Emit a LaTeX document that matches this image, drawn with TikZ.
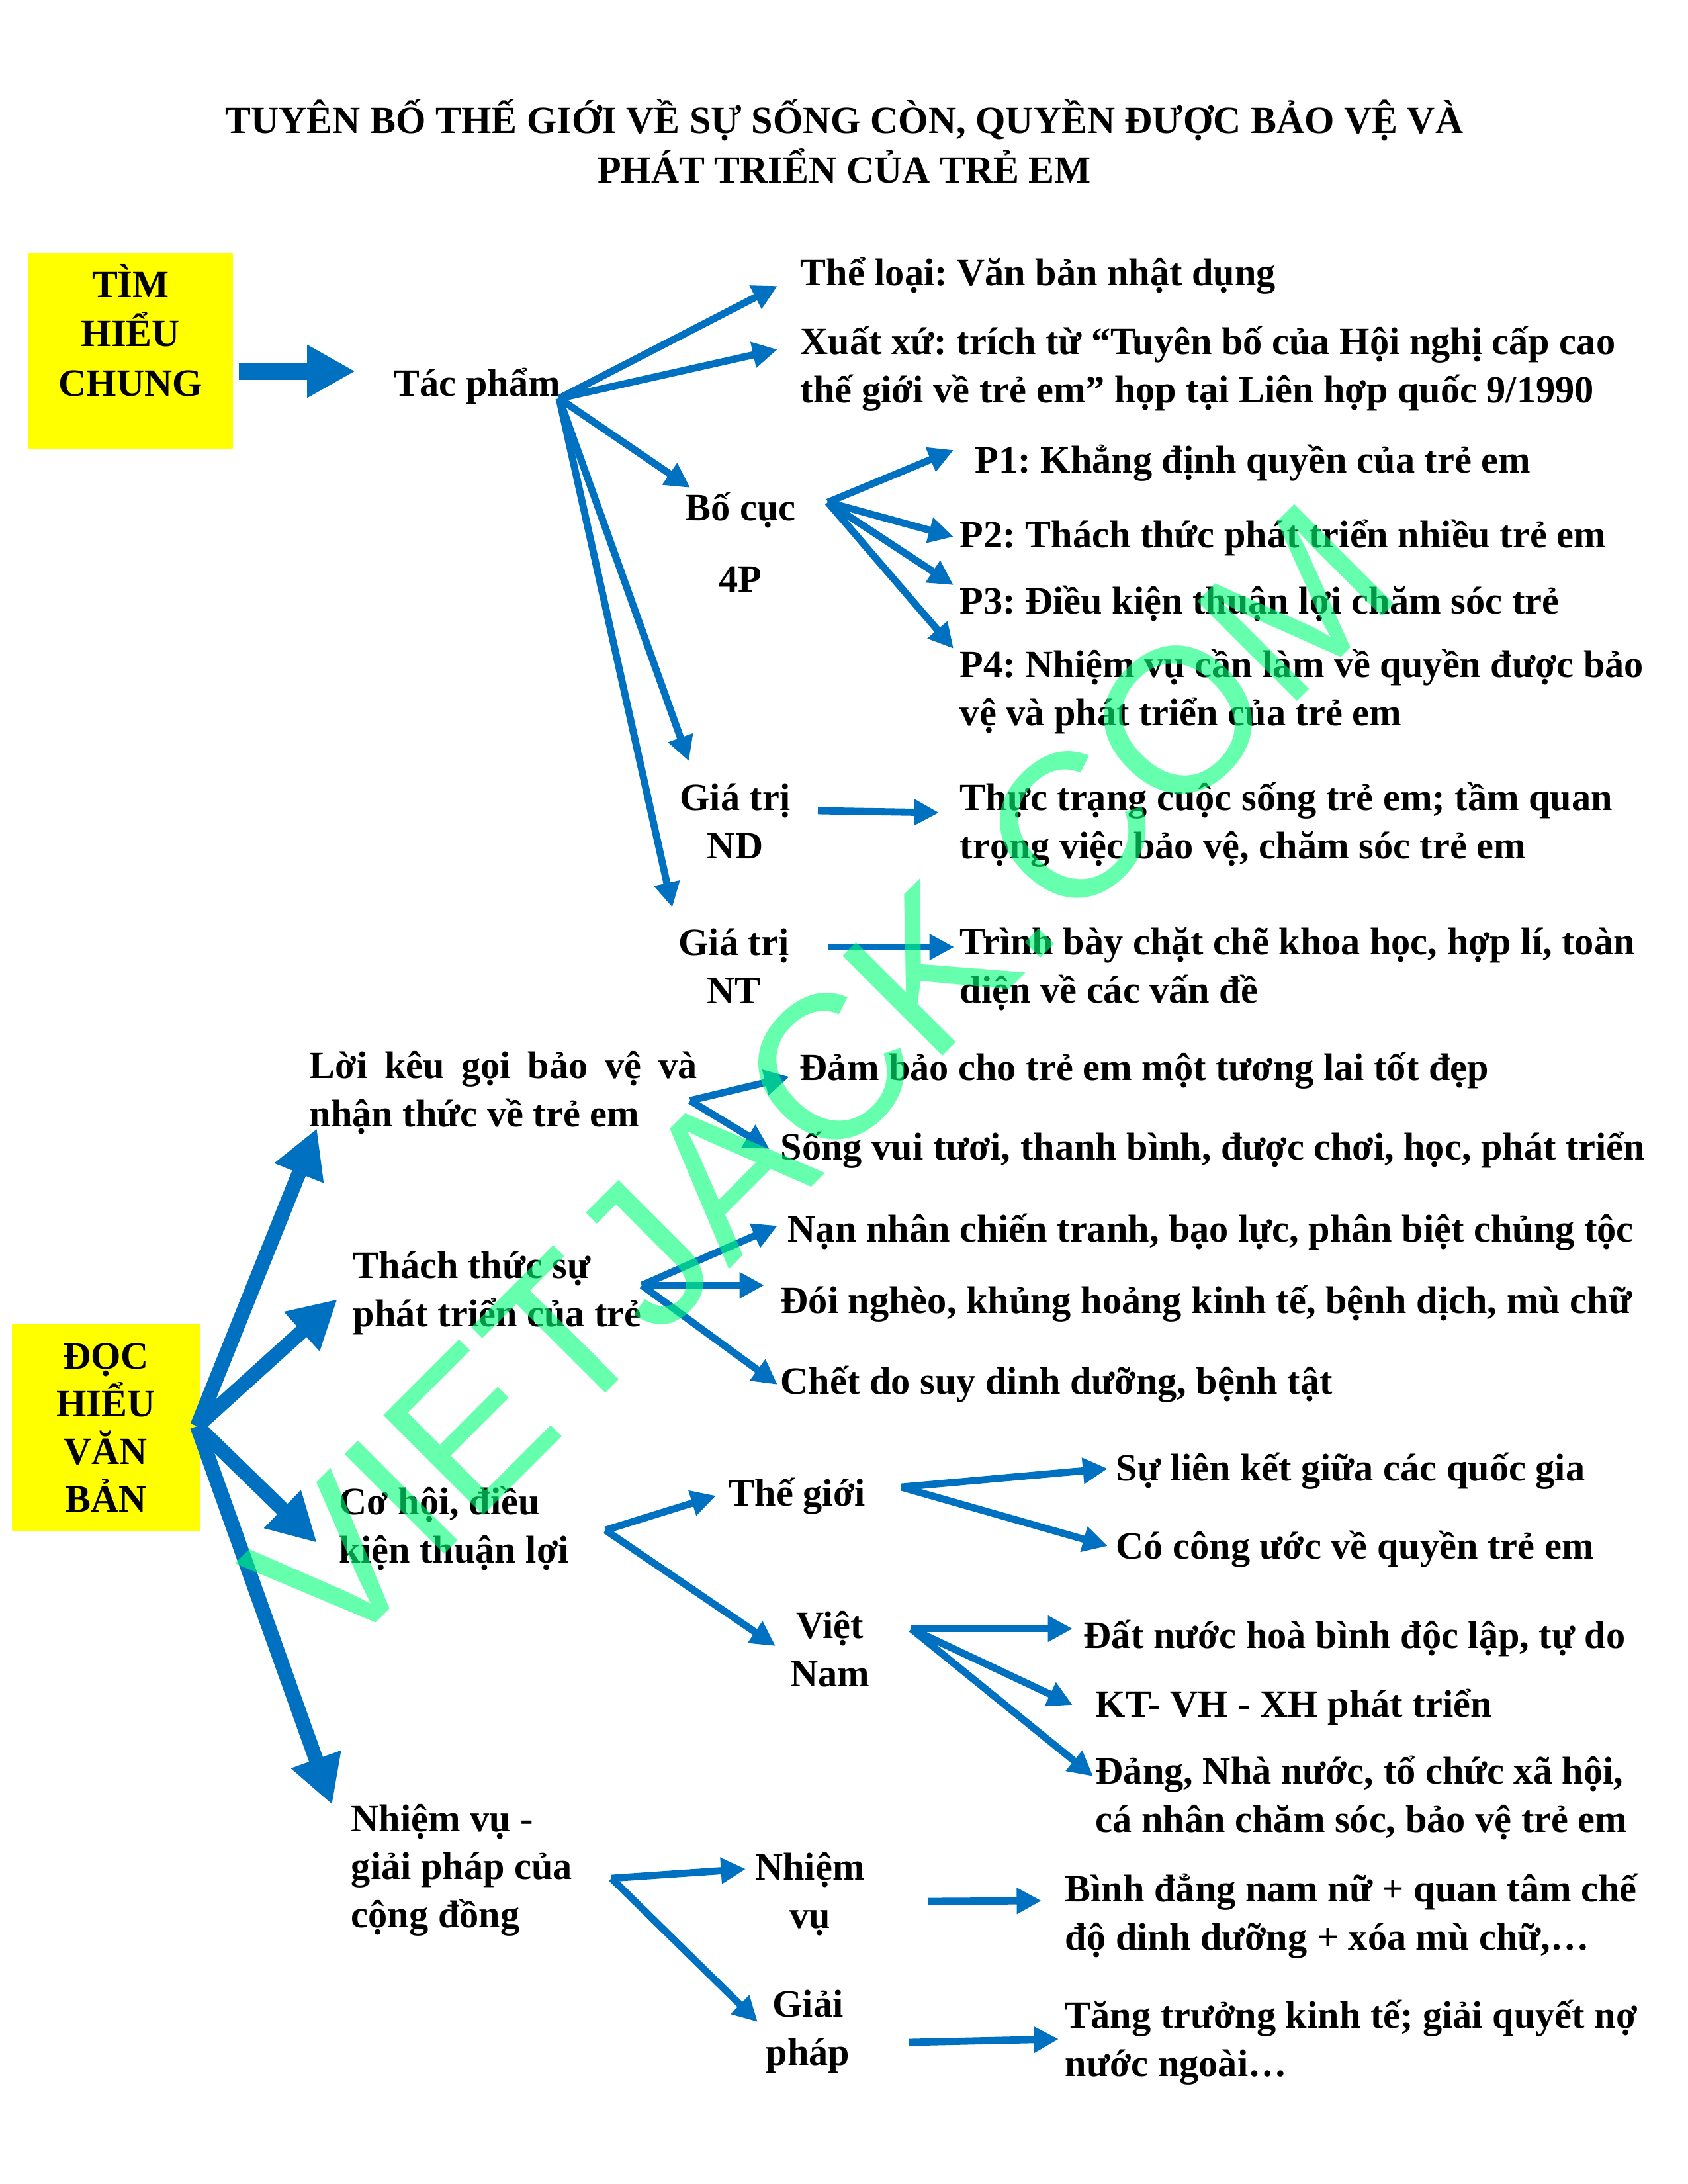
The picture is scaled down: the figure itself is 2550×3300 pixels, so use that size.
\documentclass[tikz,border=0pt]{standalone}
\usepackage{fontspec}
\setmainfont{Liberation Serif}
\newfontfamily\wmfont{Liberation Sans}
\usetikzlibrary{arrows.meta,positioning}
\definecolor{arrblue}{HTML}{0070C0}
\definecolor{hlyellow}{HTML}{FFFF00}
\definecolor{wmgreen}{HTML}{00FF77}
\frenchspacing

\begin{document}
\begin{tikzpicture}[x=0.24pt, y=-0.24pt,
  txt/.style={anchor=base west, align=left, inner sep=0pt,
              font=\fontsize{14}{17.3}\selectfont\bfseries},
  ctxt/.style={txt, anchor=base, align=center},
  ybox/.style={fill=hlyellow, inner sep=0pt},
  arr/.style={draw=arrblue, line width=2.6pt, -{Triangle[length=9pt,width=9pt]}},
  arrbig/.style={draw=arrblue, line width=5.3pt, -{Triangle[length=17.5pt,width=18pt]}},
  arrblock/.style={draw=arrblue, line width=6pt, -{Triangle[length=17.5pt,width=18pt]}},
]
  \useasboundingbox (0,0) rectangle (2550,3300);

  % ── Title ───────────────────────
  \node[ctxt, font=\fontsize{14}{17.8}\selectfont\bfseries] (title) at (1276,276)
        {TUYÊN BỐ THẾ GIỚI VỀ SỰ SỐNG CÒN, QUYỀN ĐƯỢC BẢO VỆ VÀ\\PHÁT TRIỂN CỦA TRẺ EM};

  % ── Tìm hiểu chung ──────────────
  \node[ybox, minimum width=74.2pt, minimum height=71pt, anchor=north west] (tim) at (42,381) {};
  \node[ctxt, font=\fontsize{14}{17.8}\selectfont\bfseries] (timtxt)
        at ([yshift=-52.1pt]tim.north) {TÌM\\HIỂU\\CHUNG};
  \node[txt] (tacpham) at (595,598) {Tác phẩm};
  \node[txt] (theloai) at (1209,431) {Thể loại: Văn bản nhật dụng};
  \node[txt] (xuatxu) at (1209,608)
        {Xuất xứ: trích từ “Tuyên bố của Hội nghị cấp cao\\thế giới về trẻ em” họp tại Liên hợp quốc 9/1990};
  \node[ctxt] (bocuc) at (1119,894) {Bố cục\\[8.4pt]4P};
  \node[txt] (p1) at (1473,714) {P1: Khẳng định quyền của trẻ em};
  \node[txt] (p2) at (1450,827) {P2: Thách thức phát triển nhiều trẻ em};
  \node[txt] (p3) at (1450,927) {P3: Điều kiện thuận lợi chăm sóc trẻ};
  \node[txt] (p4) at (1450,1096) {P4: Nhiệm vụ cần làm về quyền được bảo\\vệ và phát triển của trẻ em};
  \node[ctxt] (nd) at (1111,1297) {Giá trị\\ND};
  \node[txt] (ndtxt) at (1450,1297) {Thực trạng cuộc sống trẻ em; tầm quan\\trọng việc bảo vệ, chăm sóc trẻ em};
  \node[ctxt] (nt) at (1109,1516) {Giá trị\\NT};
  \node[txt] (nttxt) at (1450,1515) {Trình bày chặt chẽ khoa học, hợp lí, toàn\\diện về các vấn đề};

  \coordinate (tim-o) at (361,561);
  \coordinate (tp-a) at (537,561);
  \coordinate (tp-o) at (845,602);
  \coordinate (theloai-a) at (1175,432);
  \coordinate (xuatxu-a) at (1175,528);
  \coordinate (bocuc-a) at (1043,737);
  \coordinate (nd-a) at (1041,1150);
  \coordinate (nt-a) at (1016,1371);
  \coordinate (bc-o) at (1251,759);
  \coordinate (p1-a) at (1441,680);
  \coordinate (p2-a) at (1441,811);
  \coordinate (p3-a) at (1441,884);
  \coordinate (p4-a) at (1441,980);
  \coordinate (nd-o) at (1236,1225);
  \coordinate (ndtxt-a) at (1419,1228);
  \coordinate (nt-o) at (1252,1431);
  \coordinate (nttxt-a) at (1442,1431);

  \draw[arrblock] (tim-o) -- (tp-a);
  \draw[arr] (tp-o) -- (theloai-a);
  \draw[arr] (tp-o) -- (xuatxu-a);
  \draw[arr] (tp-o) -- (bocuc-a);
  \draw[arr] (tp-o) -- (nd-a);
  \draw[arr] (tp-o) -- (nt-a);
  \draw[arr] (bc-o) -- (p1-a);
  \draw[arr] (bc-o) -- (p2-a);
  \draw[arr] (bc-o) -- (p3-a);
  \draw[arr] (bc-o) -- (p4-a);
  \draw[arr] (nd-o) -- (ndtxt-a);
  \draw[arr] (nt-o) -- (nttxt-a);

  % ── Đọc hiểu văn bản ────────────
  \node[ybox, minimum width=68.2pt, minimum height=75.1pt, anchor=north west] (doc) at (17,1999) {};
  \node[ctxt] (doctxt) at ([yshift=-68.6pt]doc.north) {ĐỌC\\HIỂU\\VĂN\\BẢN};
  \node[txt] (loikeu) at (467,1702)
        {\makebox[140.6pt][s]{Lời kêu gọi bảo vệ và}\\nhận thức về trẻ em};
  \node[txt] (dambao) at (1208,1632) {Đảm bảo cho trẻ em một tương lai tốt đẹp};
  \node[txt] (songvui) at (1179,1752) {Sống vui tươi, thanh bình, được chơi, học, phát triển};
  \node[txt] (thachthuc) at (533,2004) {Thách thức sự\\phát triển của trẻ};
  \node[txt] (nannhan) at (1190,1876) {Nạn nhân chiến tranh, bạo lực, phân biệt chủng tộc};
  \node[txt] (doingheo) at (1179,1984) {Đói nghèo, khủng hoảng kinh tế, bệnh dịch, mù chữ};
  \node[txt] (chet) at (1179,2106) {Chết do suy dinh dưỡng, bệnh tật};
  \node[txt] (cohoi) at (512,2361) {Cơ hội, điều\\kiện thuận lợi};
  \node[txt] (thegioi) at (1101,2275) {Thế giới};
  \node[txt] (lienket) at (1686,2237) {Sự liên kết giữa các quốc gia};
  \node[txt] (congroc) at (1686,2355) {Có công ước về quyền trẻ em};
  \node[ctxt] (vietnam) at (1254,2548) {Việt\\Nam};
  \node[txt] (datnuoc) at (1637,2490) {Đất nước hoà bình độc lập, tự do};
  \node[txt] (ktvh) at (1655,2594) {KT- VH - XH phát triển};
  \node[txt] (dang) at (1655,2768) {Đảng, Nhà nước, tổ chức xã hội,\\cá nhân chăm sóc, bảo vệ trẻ em};
  \node[txt] (nvgp) at (530,2912) {Nhiệm vụ -\\giải pháp của\\cộng đồng};
  \node[ctxt] (nv) at (1224,2913) {Nhiệm\\vụ};
  \node[ctxt] (gp) at (1221,3120) {Giải\\pháp};
  \node[txt] (nvtxt) at (1609,2946) {Bình đẳng nam nữ + quan tâm chế\\độ dinh dưỡng + xóa mù chữ,…};
  \node[txt] (gptxt) at (1609,3137) {Tăng trưởng kinh tế; giải quyết nợ\\nước ngoài…};

  \coordinate (doc-o) at (298,2155);
  \coordinate (loikeu-a) at (479,1705);
  \coordinate (thachthuc-a) at (510,1963);
  \coordinate (cohoi-a) at (479,2331);
  \coordinate (nvgp-a) at (502,2727);
  \coordinate (lk-o) at (1043,1663);
  \coordinate (dambao-a) at (1193,1627);
  \coordinate (songvui-a) at (1163,1736);
  \coordinate (tt-o) at (970,1942);
  \coordinate (nannhan-a) at (1175,1852);
  \coordinate (doingheo-a) at (1155,1942);
  \coordinate (chet-a) at (1175,2092);
  \coordinate (ch-o) at (915,2312);
  \coordinate (thegioi-a) at (1082,2260);
  \coordinate (vietnam-a) at (1172,2487);
  \coordinate (tg-o) at (1362,2247);
  \coordinate (lienket-a) at (1674,2219);
  \coordinate (congroc-a) at (1674,2336);
  \coordinate (vn-o) at (1377,2461);
  \coordinate (datnuoc-a) at (1621,2461);
  \coordinate (ktvh-a) at (1621,2576);
  \coordinate (dang-a) at (1652,2684);
  \coordinate (ng-o) at (924,2838);
  \coordinate (nv-a) at (1127,2824);
  \coordinate (gp-a) at (1145,3055);
  \coordinate (nv-o) at (1403,2873);
  \coordinate (nvtxt-a) at (1574,2872);
  \coordinate (gp-o) at (1374,3086);
  \coordinate (gptxt-a) at (1600,3081);

  \draw[arrbig] (doc-o) -- (loikeu-a);
  \draw[arrbig] (doc-o) -- (thachthuc-a);
  \draw[arrbig] (doc-o) -- (cohoi-a);
  \draw[arrbig] (doc-o) -- (nvgp-a);
  \draw[arr] (lk-o) -- (dambao-a);
  \draw[arr] (lk-o) -- (songvui-a);
  \draw[arr] (tt-o) -- (nannhan-a);
  \draw[arr] (tt-o) -- (doingheo-a);
  \draw[arr] (tt-o) -- (chet-a);
  \draw[arr] (ch-o) -- (thegioi-a);
  \draw[arr] (ch-o) -- (vietnam-a);
  \draw[arr] (tg-o) -- (lienket-a);
  \draw[arr] (tg-o) -- (congroc-a);
  \draw[arr] (vn-o) -- (datnuoc-a);
  \draw[arr] (vn-o) -- (ktvh-a);
  \draw[arr] (vn-o) -- (dang-a);
  \draw[arr] (ng-o) -- (nv-a);
  \draw[arr] (ng-o) -- (gp-a);
  \draw[arr] (nv-o) -- (nvtxt-a);
  \draw[arr] (gp-o) -- (gptxt-a);

  % ── Watermark ───────────────────
  \node[anchor=base, inner sep=0pt, rotate=45, text=wmgreen, text opacity=0.6,
        font=\wmfont\fontsize{74.4}{80}\selectfont] (wm) at (1315,1705) {VIETJACK.COM};
\end{tikzpicture}
\end{document}
